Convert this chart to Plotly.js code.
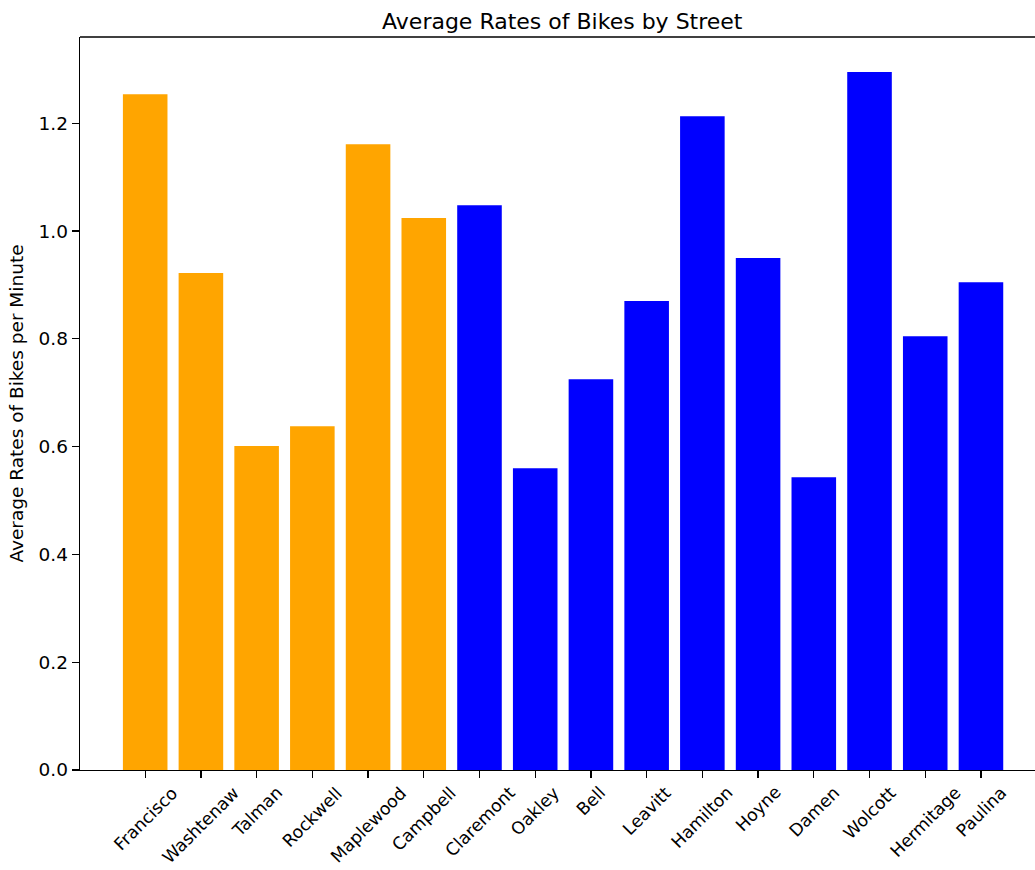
<!DOCTYPE html>
<html>
<head>
<meta charset="utf-8">
<script src="https://cdn.plot.ly/plotly-3.0.1.min.js"></script>
<style>html,body{margin:0;padding:0;background:#fff;}#chart{width:1035px;height:870px;}</style>
</head>
<body>
<div id="chart"></div>
<script>
const streets = ["Francisco","Washtenaw","Talman","Rockwell","Maplewood","Campbell","Claremont","Oakley","Bell","Leavitt","Hamilton","Hoyne","Damen","Wolcott","Hermitage","Paulina"];
const rates = [1.254,0.922,0.601,0.638,1.161,1.024,1.048,0.560,0.725,0.870,1.213,0.950,0.543,1.295,0.805,0.905];
const groupColors = ["#FFA500","#FFA500","#FFA500","#FFA500","#FFA500","#FFA500","#0000FF","#0000FF","#0000FF","#0000FF","#0000FF","#0000FF","#0000FF","#0000FF","#0000FF","#0000FF"];
const yTicks = [0.0,0.2,0.4,0.6,0.8,1.0,1.2];

const FONT = "DejaVu Sans, sans-serif";
const FS = 18.5;
const idx = streets.map((s,i)=>i);

const trace = {
  type: "bar",
  x: idx,
  y: rates,
  width: 0.8,
  marker: {color: groupColors, line: {width: 0}},
  hoverinfo: "skip"
};

const annotations = streets.map((s,i)=>({
  x: i, xref: "x", y: 0, yref: "paper",
  text: s, textangle: -45, showarrow: false,
  xanchor: "center", yanchor: "top", yshift: -10,
  font: {family: FONT, size: 17.3, color: "#000"}
}));

const layout = {
  width: 1035, height: 870,
  paper_bgcolor: "#fff", plot_bgcolor: "#fff",
  margin: {l: 80, r: 0, t: 37, b: 100},
  showlegend: false,
  font: {family: FONT, size: FS, color: "#000"},
  title: {text: "Average Rates of Bikes by Street", font: {family: FONT, size: 22, color: "#000"}, xref: "paper", x: 0.505, xanchor: "center", y: 1, yref: "paper", yanchor: "bottom", pad: {b: 8}},
  xaxis: {
    range: [-1.17, 15.97],
    tickmode: "array", tickvals: idx, ticktext: streets,
    showticklabels: false,
    ticks: "outside", ticklen: 7, tickwidth: 1.3, tickcolor: "#000",
    showline: true, linecolor: "#000", linewidth: 1.3,
    showgrid: false, zeroline: false, mirror: false
  },
  yaxis: {
    range: [0, 1.36],
    tickmode: "array", tickvals: yTicks, ticktext: yTicks.map(v=>v.toFixed(1)),
    ticks: "outside", ticklen: 7, tickwidth: 1.3, tickcolor: "#000",
    showline: true, linecolor: "#000", linewidth: 1.3,
    showgrid: false, zeroline: false, mirror: false,
    tickfont: {family: FONT, size: FS, color: "#000"},
    title: {text: "Average Rates of Bikes per Minute", font: {family: FONT, size: FS, color: "#000"}, standoff: 10},
    automargin: false
  },
  shapes: [{type: "line", xref: "paper", yref: "paper", x0: 0, x1: 1, y0: 1, y1: 1, line: {color: "#000", width: 1.3}}],
  annotations: annotations
};

Plotly.newPlot("chart", [trace], layout, {displayModeBar: false, staticPlot: true});
</script>
</body>
</html>
